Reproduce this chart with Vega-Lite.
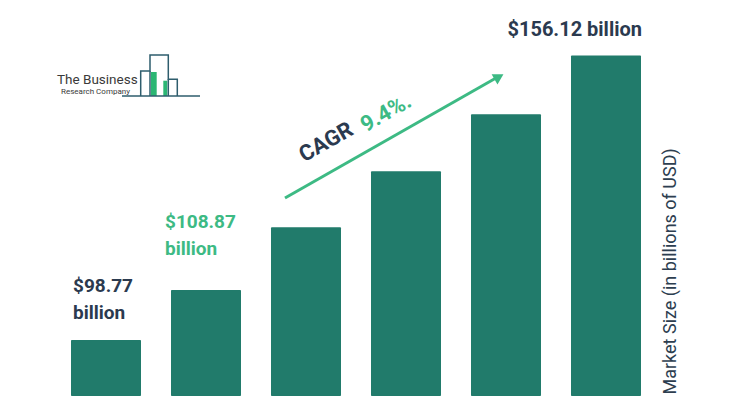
{
  "$schema": "https://vega.github.io/schema/vega-lite/v6.json",
  "width": 600,
  "height": 376,
  "autosize": "none",
  "padding": {"left": 56, "top": 20, "right": 79, "bottom": 4},
  "background": "white",
  "config": {
    "view": {"stroke": null},
    "font": "Roboto",
    "axisY": {
      "orient": "right", "title": "Market Size (in billions of USD)",
      "labels": false, "ticks": false, "domain": false, "grid": false,
      "titleAngle": -90, "titleX": 14, "titleY": 374, "titleAlign": "left", "titleBaseline": "middle",
      "titleFontSize": 18, "titleFontWeight": "normal", "titleColor": "#2d3e50", "titleFont": "Roboto"
    }
  },
  "datasets": {
    "market": [
      {"year": 2023, "value": 98.77, "label": "$98.77\nbillion"},
      {"year": 2024, "value": 108.87, "label": "$108.87\nbillion"},
      {"year": 2025, "value": 121.5, "label": ""},
      {"year": 2026, "value": 132.8, "label": ""},
      {"year": 2027, "value": 144.3, "label": ""},
      {"year": 2028, "value": 156.12, "label": "$156.12 billion"}
    ],
    "cagrLine": [
      {"x": 2024.79, "y": 127.42},
      {"x": 2026.9, "y": 151.61}
    ],
    "cagrHead": [{"x": 2026.93, "y": 151.85}],
    "cagrText": [
      {"x": 2025.2, "y": 138.7, "text": "CAGR"},
      {"x": 2025.8, "y": 144.56, "text": "9.4%."}
    ],
    "logoLines": [
      {"part": "base", "step": 1, "x": 2023.16, "y": 147.98},
      {"part": "base", "step": 2, "x": 2023.94, "y": 147.98},
      {"part": "outline", "step": 1, "x": 2023.347, "y": 147.98},
      {"part": "outline", "step": 2, "x": 2023.347, "y": 153.02},
      {"part": "outline", "step": 3, "x": 2023.44, "y": 153.02},
      {"part": "outline", "step": 4, "x": 2023.44, "y": 156.25},
      {"part": "outline", "step": 5, "x": 2023.623, "y": 156.25},
      {"part": "outline", "step": 6, "x": 2023.623, "y": 151.35},
      {"part": "outline", "step": 7, "x": 2023.713, "y": 151.35},
      {"part": "outline", "step": 8, "x": 2023.713, "y": 147.98},
      {"part": "edge1", "step": 1, "x": 2023.44, "y": 153.02},
      {"part": "edge1", "step": 2, "x": 2023.44, "y": 147.98},
      {"part": "edge2", "step": 1, "x": 2023.623, "y": 151.35},
      {"part": "edge2", "step": 2, "x": 2023.623, "y": 147.98}
    ],
    "logoFill": [
      {"x": 2023.45, "x2": 2023.507, "y": 152.82, "y2": 147.98},
      {"x": 2023.573, "x2": 2023.613, "y": 151.06, "y2": 147.98}
    ],
    "logoText": [
      {"x": 2022.51, "y": 150.4, "text": "The Business", "kind": "name"},
      {"x": 2022.55, "y": 148.39, "text": "Research Company", "kind": "sub"}
    ]
  },
  "layer": [
    {
      "data": {"name": "market"},
      "mark": {"type": "bar", "width": 70, "color": "#217b6b", "cornerRadius": 1},
      "encoding": {
        "x": {"field": "year", "type": "quantitative", "scale": {"domain": [2022.5, 2028.5], "nice": false, "zero": false, "padding": 0}, "axis": null},
        "y": {"field": "value", "type": "quantitative", "scale": {"domain": [87.5, 163.3], "nice": false, "zero": false}, "title": "Market Size (in billions of USD)"},
        "y2": {"datum": 87.5}
      }
    },
    {
      "data": {"name": "market"},
      "transform": [{"filter": "datum.year == 2023"}],
      "mark": {"type": "text", "align": "left", "baseline": "alphabetic", "dx": -33, "dy": -48, "fontSize": 19, "fontWeight": "bold", "color": "#2b3a4f", "lineBreak": "\n", "lineHeight": 27},
      "encoding": {
        "x": {"field": "year", "type": "quantitative", "scale": {"domain": [2022.5, 2028.5], "nice": false, "zero": false, "padding": 0}, "axis": null},
        "y": {"field": "value", "type": "quantitative", "scale": {"domain": [87.5, 163.3], "nice": false, "zero": false}, "title": "Market Size (in billions of USD)"},
        "text": {"field": "label"}
      }
    },
    {
      "data": {"name": "market"},
      "transform": [{"filter": "datum.year == 2024"}],
      "mark": {"type": "text", "align": "left", "baseline": "alphabetic", "dx": -41, "dy": -62, "fontSize": 19, "fontWeight": "bold", "color": "#3dba84", "lineBreak": "\n", "lineHeight": 27},
      "encoding": {
        "x": {"field": "year", "type": "quantitative", "scale": {"domain": [2022.5, 2028.5], "nice": false, "zero": false, "padding": 0}, "axis": null},
        "y": {"field": "value", "type": "quantitative", "scale": {"domain": [87.5, 163.3], "nice": false, "zero": false}, "title": "Market Size (in billions of USD)"},
        "text": {"field": "label"}
      }
    },
    {
      "data": {"name": "market"},
      "transform": [{"filter": "datum.year == 2028"}],
      "mark": {"type": "text", "align": "right", "baseline": "alphabetic", "dx": 36, "dy": -20, "fontSize": 20, "fontWeight": "bold", "color": "#2b3a4f"},
      "encoding": {
        "x": {"field": "year", "type": "quantitative", "scale": {"domain": [2022.5, 2028.5], "nice": false, "zero": false, "padding": 0}, "axis": null},
        "y": {"field": "value", "type": "quantitative", "scale": {"domain": [87.5, 163.3], "nice": false, "zero": false}, "title": "Market Size (in billions of USD)"},
        "text": {"field": "label"}
      }
    },
    {
      "data": {"name": "cagrLine"},
      "mark": {"type": "line", "color": "#3dba84", "strokeWidth": 3},
      "encoding": {
        "x": {"field": "x", "type": "quantitative", "scale": {"domain": [2022.5, 2028.5], "nice": false, "zero": false, "padding": 0}, "axis": null},
        "y": {"field": "y", "type": "quantitative", "scale": {"domain": [87.5, 163.3], "nice": false, "zero": false}, "title": "Market Size (in billions of USD)"}
      }
    },
    {
      "data": {"name": "cagrHead"},
      "mark": {"type": "point", "shape": "triangle-up", "filled": true, "opacity": 1, "color": "#3dba84", "size": 140, "angle": 60.5},
      "encoding": {
        "x": {"field": "x", "type": "quantitative", "scale": {"domain": [2022.5, 2028.5], "nice": false, "zero": false, "padding": 0}, "axis": null},
        "y": {"field": "y", "type": "quantitative", "scale": {"domain": [87.5, 163.3], "nice": false, "zero": false}, "title": "Market Size (in billions of USD)"}
      }
    },
    {
      "data": {"name": "cagrText"},
      "mark": {"type": "text", "align": "center", "baseline": "middle", "angle": -29.5, "fontSize": 22, "fontWeight": "bold"},
      "encoding": {
        "x": {"field": "x", "type": "quantitative", "scale": {"domain": [2022.5, 2028.5], "nice": false, "zero": false, "padding": 0}, "axis": null},
        "y": {"field": "y", "type": "quantitative", "scale": {"domain": [87.5, 163.3], "nice": false, "zero": false}, "title": "Market Size (in billions of USD)"},
        "text": {"field": "text"},
        "color": {"field": "text", "type": "nominal", "scale": {"domain": ["CAGR", "9.4%."], "range": ["#2b3a4f", "#3dba84"]}, "legend": null}
      }
    },
    {
      "data": {"name": "logoFill"},
      "mark": {"type": "rect", "color": "#2bb673"},
      "encoding": {
        "x": {"field": "x", "type": "quantitative", "scale": {"domain": [2022.5, 2028.5], "nice": false, "zero": false, "padding": 0}, "axis": null},
        "x2": {"field": "x2"},
        "y": {"field": "y", "type": "quantitative", "scale": {"domain": [87.5, 163.3], "nice": false, "zero": false}, "title": "Market Size (in billions of USD)"},
        "y2": {"field": "y2"}
      }
    },
    {
      "data": {"name": "logoLines"},
      "mark": {"type": "line", "color": "#2e5d6d", "strokeWidth": 1.5},
      "encoding": {
        "x": {"field": "x", "type": "quantitative", "scale": {"domain": [2022.5, 2028.5], "nice": false, "zero": false, "padding": 0}, "axis": null},
        "y": {"field": "y", "type": "quantitative", "scale": {"domain": [87.5, 163.3], "nice": false, "zero": false}, "title": "Market Size (in billions of USD)"},
        "detail": {"field": "part"},
        "order": {"field": "step"}
      }
    },
    {
      "data": {"name": "logoText"},
      "transform": [{"filter": "datum.kind == 'name'"}],
      "mark": {"type": "text", "align": "left", "baseline": "alphabetic", "fontSize": 13.5, "color": "#3a3a3a", "font": "Roboto"},
      "encoding": {
        "x": {"field": "x", "type": "quantitative", "scale": {"domain": [2022.5, 2028.5], "nice": false, "zero": false, "padding": 0}, "axis": null},
        "y": {"field": "y", "type": "quantitative", "scale": {"domain": [87.5, 163.3], "nice": false, "zero": false}, "title": "Market Size (in billions of USD)"},
        "text": {"field": "text"}
      }
    },
    {
      "data": {"name": "logoText"},
      "transform": [{"filter": "datum.kind == 'sub'"}],
      "mark": {"type": "text", "align": "left", "baseline": "alphabetic", "fontSize": 8, "color": "#3a3a3a", "font": "Roboto"},
      "encoding": {
        "x": {"field": "x", "type": "quantitative", "scale": {"domain": [2022.5, 2028.5], "nice": false, "zero": false, "padding": 0}, "axis": null},
        "y": {"field": "y", "type": "quantitative", "scale": {"domain": [87.5, 163.3], "nice": false, "zero": false}, "title": "Market Size (in billions of USD)"},
        "text": {"field": "text"}
      }
    }
  ]
}
